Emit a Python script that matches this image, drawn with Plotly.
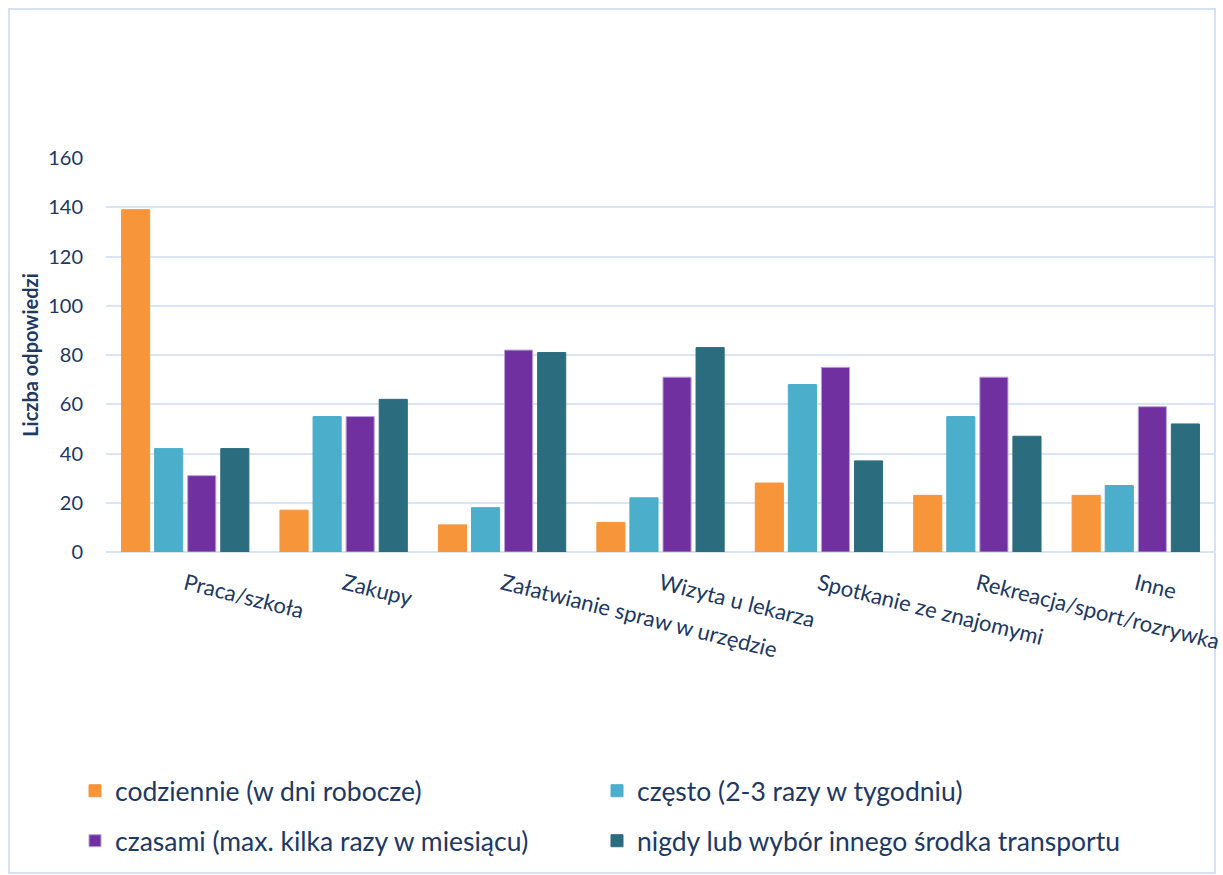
import plotly.graph_objects as go

categories = ["Praca/szkoła", "Zakupy", "Załatwianie spraw w urzędzie", "Wizyta u lekarza",
              "Spotkanie ze znajomymi", "Rekreacja/sport/rozrywka", "Inne"]
codziennie = [139, 17, 11, 12, 28, 23, 23]
czesto = [42, 55, 18, 22, 68, 55, 27]
czasami = [31, 55, 82, 71, 75, 71, 59]
nigdy = [42, 62, 81, 83, 37, 47, 52]
series_names = ["codziennie (w dni robocze)", "często (2-3 razy w tygodniu)",
                "czasami (max. kilka razy w miesiącu)", "nigdy lub wybór innego środka transportu"]
y_ticks = [0, 20, 40, 60, 80, 100, 120, 140, 160]

FONT = "Lato"
TXT = "#203864"
W, H = 1223, 875
L, R, T, B = 106, 8, 158, 323
PW, PH = W - L - R, H - T - B

def px_x(x):
    return (x - L) / PW

def px_y(y):
    return (H - B - y) / PH

fig = go.Figure()
specs = [
    (codziennie, "#F7953B", "#F7953B", "legend"),
    (czesto, "#4BAECA", "#4BAECA", "legend"),
    (czasami, "#7030A0", "#B9A2D8", "legend2"),
    (nigdy, "#2B6C7F", "#2B6C7F", "legend2"),
]
for (vals, col, lcol, leg), name in zip(specs, series_names):
    fig.add_trace(go.Bar(x=categories, y=vals, name=name,
                         marker=dict(color=col, line=dict(color=lcol, width=1)),
                         legend=leg))

fig.update_layout(
    width=W, height=H,
    margin=dict(l=L, r=R, t=T, b=B),
    paper_bgcolor="white", plot_bgcolor="white",
    barmode="group", bargap=0.165, bargroupgap=0.15,
    font=dict(family=FONT, color=TXT),
    legend=dict(orientation="h", x=px_x(75), xanchor="left", y=px_y(791), yanchor="middle",
                entrywidth=477, entrywidthmode="pixels", font=dict(size=26.5, color=TXT),
                bgcolor="rgba(0,0,0,0)"),
    legend2=dict(orientation="h", x=px_x(75), xanchor="left", y=px_y(841), yanchor="middle",
                 entrywidth=477, entrywidthmode="pixels", font=dict(size=26.5, color=TXT),
                 bgcolor="rgba(0,0,0,0)"),
    showlegend=True,
)
fig.update_xaxes(tickangle=14, tickfont=dict(size=22, color=TXT), showgrid=False,
                 showline=False, ticks="outside", ticklen=10, tickcolor="rgba(0,0,0,0)",
                 automargin=False)
fig.update_yaxes(range=[0, 160], tickvals=y_ticks, tickfont=dict(size=20, color=TXT),
                 showgrid=True, gridcolor="#D9E4F4", gridwidth=2,
                 zeroline=True, zerolinecolor="#D9E4F4", zerolinewidth=2,
                 ticklabelstandoff=22, automargin=False,
                 title=dict(text="<b>Liczba odpowiedzi</b>", font=dict(size=20, color=TXT), standoff=4))

fig.add_shape(type="rect", xref="paper", yref="paper",
              x0=px_x(9), x1=px_x(1215), y0=px_y(873), y1=px_y(9),
              line=dict(color="#D6E2F2", width=2), fillcolor="rgba(0,0,0,0)", layer="below")

fig.write_html("out.html")
